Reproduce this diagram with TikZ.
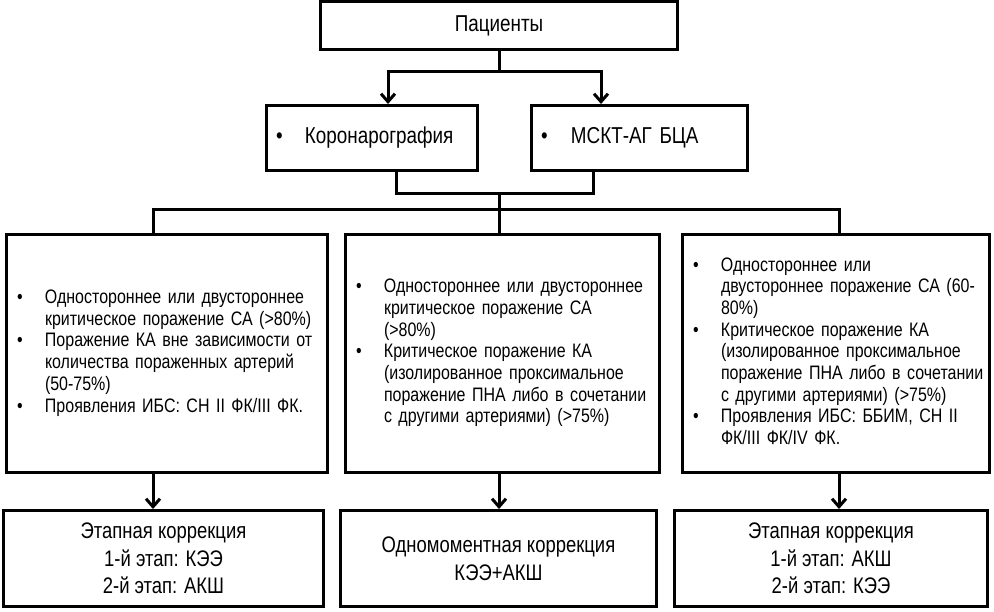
\documentclass[tikz,border=0pt]{standalone}
\usepackage{fontspec}
\setmainfont{Liberation Sans}[FakeStretch=0.82]
\usepackage{tikz}
\usetikzlibrary{positioning, arrows.meta, calc}
\definecolor{ink}{HTML}{000000}
\tikzset{
  headbox/.style  = {rectangle, draw=ink, line width=3pt,
                     minimum width=357pt, minimum height=48pt, inner sep=0pt,
                     font=\fontsize{23pt}{25pt}\selectfont},
  choicebox/.style= {rectangle, draw=ink, line width=3pt,
                     minimum height=65pt, inner xsep=9.5pt, inner ysep=0pt,
                     align=left, font=\fontsize{23pt}{25pt}\selectfont},
  critbox/.style  = {rectangle, draw=ink, line width=3pt,
                     minimum height=238pt, inner xsep=10.5pt, inner ysep=0pt,
                     align=left, font=\fontsize{19.5pt}{21.7pt}\selectfont},
  planbox/.style  = {rectangle, draw=ink, line width=3pt,
                     minimum height=96pt, inner sep=0pt,
                     align=center, font=\fontsize{22.5pt}{27.5pt}\selectfont},
  link/.style     = {line width=3pt, draw=ink},
  arr/.style      = {-{Straight Barb[length=8pt,width=14pt]}, line width=3pt, draw=ink},
}

\begin{document}
\begin{tikzpicture}
  \useasboundingbox (0,0) rectangle (994pt,-611pt);

  % ----- TOP: patients and examinations -----
  \node[headbox] (pat) at (499pt,-25.5pt) {Пациенты};

  \node[choicebox, text width=192pt, below=53pt of pat, xshift=-127pt] (kor)
       {\makebox[29pt][l]{\textbullet}Коронарография};
  \node[choicebox, text width=197pt, right=51pt of kor] (msct)
       {\makebox[30pt][l]{\textbullet}МСКТ-АГ БЦА};

  \coordinate (split) at ($(pat.south)+(0,-20pt)$);
  \coordinate (merge) at ($(pat.south)+(0,-142pt)$);

  \draw[link] (pat.south) -- (split);
  \draw[arr] (split) -| ([xshift=16pt]kor.north);
  \draw[arr] (split) -| ([xshift=-38.5pt]msct.north);
  \draw[link] ([xshift=24pt]kor.south) |- (merge) -| ([xshift=-46.5pt]msct.south);

  % ----- MIDDLE: lesion groups -----
  \node[critbox, text width=300pt, below=61pt of kor, xshift=-205pt] (r2l)
       {\begin{tabular}{@{}l@{}l@{}}
        \makebox[28pt][l]{\textbullet} & Одностороннее или двустороннее\\
          & критическое поражение СА (>80\%)\\
        \textbullet & Поражение КА вне зависимости от\\
          & количества пораженных артерий\\
          & (50-75\%)\\
        \textbullet & Проявления ИБС: СН II ФК/III ФК.
        \end{tabular}};
  \node[critbox, text width=293pt, right=15pt of r2l] (r2m)
       {\begin{tabular}{@{}l@{}l@{}}
        \makebox[28pt][l]{\textbullet} & Одностороннее или двустороннее\\
          & критическое поражение СА\\
          & (>80\%)\\
        \textbullet & Критическое поражение КА\\
          & (изолированное проксимальное\\
          & поражение ПНА либо в сочетании\\
          & с другими артериями) (>75\%)
        \end{tabular}};
  \node[critbox, text width=286pt, right=20pt of r2m] (r2r)
       {\begin{tabular}{@{}l@{}l@{}}
        \makebox[28pt][l]{\textbullet} & Одностороннее или\\
          & двустороннее поражение СА (60-\\
          & 80\%)\\
        \textbullet & Критическое поражение КА\\
          & (изолированное проксимальное\\
          & поражение ПНА либо в сочетании\\
          & с другими артериями) (>75\%)\\
        \textbullet & Проявления ИБС: ББИМ, СН II\\
          & ФК/III ФК/IV ФК.
        \end{tabular}};

  \coordinate (busl) at ($(r2l.north)+(-14pt,24pt)$);
  \coordinate (busr) at ($(r2r.north)+(3pt,24pt)$);

  \draw[link] (merge) -- (merge |- r2m.north);
  \draw[link] (busl |- r2l.north) -- (busl) -- (busr) -- (busr |- r2r.north);

  % ----- BOTTOM: correction strategy -----
  \node[planbox, minimum width=320pt, below=35pt of r2l, xshift=-3.5pt] (r3l)
       {Этапная коррекция\\1-й этап: КЭЭ\\2-й этап: АКШ};
  \node[planbox, minimum width=316pt, right=14pt of r3l] (r3m)
       {Одномоментная коррекция\\КЭЭ+АКШ};
  \node[planbox, minimum width=313pt, right=15pt of r3m] (r3r)
       {Этапная коррекция\\1-й этап: АКШ\\2-й этап: КЭЭ};

  \draw[arr] (busl |- r2l.south) -- (busl |- r3l.north);
  \draw[arr] (merge |- r2m.south) -- (merge |- r3m.north);
  \draw[arr] (busr |- r2r.south) -- (busr |- r3r.north);

\end{tikzpicture}
\end{document}
